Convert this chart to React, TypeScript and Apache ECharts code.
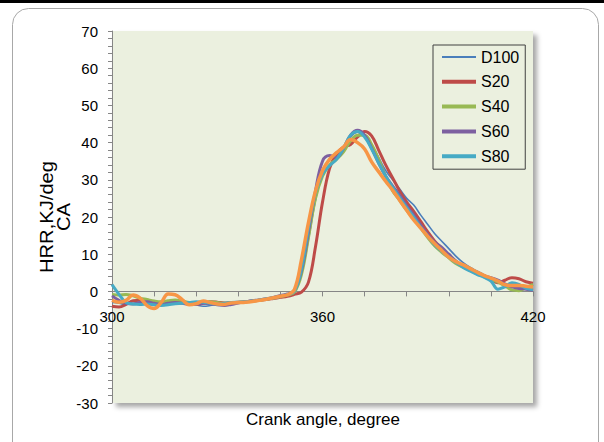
import React, { useEffect, useRef } from "react";
import * as echarts from "echarts";

// Crank angle samples (degrees)
const angles = [
  300, 302, 304, 306, 308, 310, 312, 314, 316, 318,
  320, 322, 324, 326, 328, 330, 332, 334, 336, 338,
  340, 342, 344, 346, 348, 350, 352, 354, 356, 358,
  360, 362, 364, 366, 368, 370, 372, 374, 376, 378,
  380, 382, 384, 386, 388, 390, 392, 394, 396, 398,
  400, 402, 404, 406, 408, 410, 412, 414, 416, 418,
  420,
];

// Heat release rate, kJ/deg CA
const d100 = [
  -3.0, -3.2, -3.5, -3.3, -3.0, -3.2, -3.5, -3.8, -3.6, -3.2,
  -3.0, -3.2, -3.6, -4.0, -3.8, -3.4, -3.2, -3.0, -2.9, -2.8,
  -2.6, -2.4, -2.1, -1.8, -1.5, -1.1, -0.3, 4.5, 14.0, 24.5,
  32.0, 35.5, 36.5, 38.5, 41.5, 42.8, 42.0, 39.5, 36.0, 32.5,
  30.0, 27.5, 25.0, 23.2, 20.5, 18.0, 15.5, 13.5, 11.5, 9.5,
  7.8, 6.5, 5.5, 4.5, 3.6, 2.8, 2.0, 1.5, 1.2, 1.0,
  0.8,
];
const s20 = [
  -4.0, -4.2, -3.5, -2.5, -2.4, -3.0, -3.5, -3.5, -3.0, -2.6,
  -2.8, -3.2, -3.4, -3.2, -2.8, -2.9, -3.1, -3.0, -2.9, -2.8,
  -2.6, -2.4, -2.2, -1.9, -1.6, -1.3, -0.8, -0.2, 2.5, 12.0,
  24.0, 33.0, 37.0, 38.8, 39.5, 41.5, 43.0, 41.8, 38.0, 34.0,
  30.5, 27.0, 24.0, 21.5, 18.8, 16.0, 13.5, 11.5, 9.5, 8.0,
  6.8, 5.8, 4.8, 4.0, 3.2, 2.3, 3.0, 3.7, 3.4, 2.6,
  2.2,
];
const s40 = [
  -0.8, -1.0, -0.8, -1.2, -1.8, -2.2, -2.6, -2.8, -2.5, -2.3,
  -2.6, -3.0, -3.2, -3.0, -2.8, -3.0, -3.2, -3.1, -3.0, -2.8,
  -2.6, -2.4, -2.1, -1.8, -1.4, -1.0, -0.2, 4.5, 14.5, 25.0,
  31.0, 34.0, 35.5, 37.5, 40.5, 42.0, 42.0, 39.5, 35.5, 31.0,
  27.0, 24.5, 21.8, 19.5, 17.0, 14.5, 12.2, 10.5, 9.0, 7.5,
  6.5, 5.8, 4.8, 4.0, 3.2, 2.5, 1.5, 0.4, 0.2, 1.0,
  1.9,
];
const s60 = [
  -1.2, -2.4, -3.2, -3.4, -3.0, -2.8, -3.2, -3.5, -3.2, -3.0,
  -3.2, -3.5, -3.4, -3.2, -3.3, -3.6, -3.8, -3.5, -3.1, -2.8,
  -2.5, -2.3, -2.0, -1.6, -1.1, -0.7, 0.3, 5.5, 16.0, 27.0,
  35.0, 36.5, 36.0, 38.5, 42.0, 43.3, 42.0, 38.5, 34.5, 31.0,
  28.3, 25.8, 23.0, 20.5, 17.8, 15.3, 13.2, 11.8, 10.0, 8.2,
  6.8, 5.8, 4.8, 4.2, 3.7, 3.0, 2.0, 1.2, 0.8, 0.6,
  0.3,
];
const s80 = [
  1.8, -0.8, -3.0, -3.4, -3.5, -3.4, -3.6, -3.8, -3.6, -3.3,
  -3.2, -3.0, -2.8, -2.9, -3.2, -3.4, -3.2, -3.0, -2.9, -2.8,
  -2.6, -2.3, -2.0, -1.7, -1.3, -0.9, 0.0, 6.0, 17.0, 26.5,
  31.5, 33.8, 35.5, 38.5, 42.0, 43.0, 41.5, 38.3, 34.5, 31.0,
  28.0, 25.2, 22.5, 20.0, 17.2, 14.8, 12.5, 10.8, 9.2, 7.8,
  6.5, 5.5, 4.6, 3.8, 2.8, 0.6, 1.2, 2.3, 1.9, 0.8,
  0.5,
];
const s100 = [
  -2.4, -2.9, -2.4, -1.0, -1.8, -3.8, -4.6, -3.0, -0.7, -0.9,
  -2.2, -3.6, -3.3, -2.6, -3.0, -3.4, -3.5, -3.1, -3.0, -2.9,
  -2.7, -2.4, -2.1, -1.7, -1.3, -0.9, 0.5, 8.5, 18.5, 27.0,
  32.5, 35.5, 37.3, 38.8, 40.8, 40.0, 38.3, 34.8, 32.2, 29.6,
  27.2, 24.5, 21.8, 19.2, 17.0, 14.8, 12.8, 11.0, 9.2, 8.0,
  7.2, 6.2, 5.2, 4.3, 3.6, 2.8, 1.8, 1.6, 1.6, 1.4,
  1.2,
];

const seriesDefs = [
  { name: "D100", values: d100, color: "#4A7EBB", width: 1.6, legendWidth: 2 },
  { name: "S20", values: s20, color: "#BE4B48", width: 3, legendWidth: 4 },
  { name: "S40", values: s40, color: "#98B954", width: 3, legendWidth: 4 },
  { name: "S60", values: s60, color: "#7D60A0", width: 3, legendWidth: 4 },
  { name: "S80", values: s80, color: "#46AAC5", width: 3, legendWidth: 4 },
  { name: "S100", values: s100, color: "#F79646", width: 3.5, legendWidth: 4 },
];
const legendNames = ["D100", "S20", "S40", "S60", "S80"];

const FONT = "Liberation Sans, Arial, sans-serif";

// Plot area and value range of the HRR axis
const GRID = { left: 112, right: 71, top: 31, bottom: 39 };
const Y_MIN = -30;
const Y_MAX = 70;
const HEIGHT = 442;

export default function App() {
  const ref = useRef<HTMLDivElement>(null);

  useEffect(() => {
    if (!ref.current) return;
    const chart = echarts.init(ref.current, undefined, { renderer: "svg" });

    // the crank-angle axis runs along HRR = 0, raised from the plot bottom
    const plotH = HEIGHT - GRID.top - GRID.bottom;
    const zeroRaise = (plotH * (0 - Y_MIN)) / (Y_MAX - Y_MIN);

    chart.setOption({
      animation: false,
      backgroundColor: "#ffffff",
      graphic: [
        {
          type: "rect",
          shape: { x: 0, y: 0, width: 604, height: 3 },
          style: { fill: "#000000" },
          silent: true,
        },
        {
          type: "rect",
          shape: { x: 12.5, y: 8.5, width: 586, height: 480, r: 16 },
          style: { fill: "none", stroke: "#a8a8a8", lineWidth: 1 },
          silent: true,
        },
        {
          type: "text",
          x: 55,
          y: 217,
          rotation: Math.PI / 2,
          scaleX: 1.12,
          style: {
            text: "HRR,KJ/deg\nCA",
            fontSize: 18,
            fontFamily: FONT,
            align: "center",
            verticalAlign: "middle",
            lineHeight: 17,
            fill: "#000000",
          },
          silent: true,
        },
        {
          type: "text",
          x: 323,
          y: 419,
          style: {
            text: "Crank angle, degree",
            fontSize: 17,
            fontFamily: FONT,
            align: "center",
            verticalAlign: "middle",
            fill: "#000000",
          },
          silent: true,
        },
      ],
      grid: {
        show: true,
        ...GRID,
        backgroundColor: "#EBF0DF",
        borderWidth: 0,
        shadowColor: "rgba(0,0,0,0.35)",
        shadowBlur: 5,
        shadowOffsetX: 4,
        shadowOffsetY: 4,
      },
      legend: {
        data: legendNames.map((n) => {
          const d = seriesDefs.find((s) => s.name === n)!;
          return { name: n, lineStyle: { width: d.legendWidth } };
        }),
        orient: "vertical",
        left: 433,
        top: 45,
        padding: [3, 6, 4, 7],
        itemWidth: 34,
        itemHeight: 14,
        itemGap: 6.8,
        itemStyle: { opacity: 0, borderWidth: 0 },
        backgroundColor: "#EBF0DF",
        borderColor: "#404040",
        borderWidth: 1,
        borderRadius: 0,
        textStyle: {
          fontSize: 16,
          fontFamily: FONT,
          color: "#000000",
          lineHeight: 18,
        },
      },
      xAxis: {
        type: "value",
        position: "bottom",
        offset: -zeroRaise,
        min: 300,
        max: 420,
        interval: 60,
        axisLine: { onZero: false, lineStyle: { color: "#868686", width: 1 } },
        axisTick: { show: true, length: 5, lineStyle: { color: "#868686" } },
        minorTick: { show: true, splitNumber: 5, length: 5, lineStyle: { color: "#868686" } },
        splitLine: { show: false },
        axisLabel: {
          fontSize: 15,
          fontFamily: FONT,
          color: "#000000",
          margin: 18,
        },
      },
      yAxis: {
        type: "value",
        min: Y_MIN,
        max: Y_MAX,
        interval: 10,
        axisLine: { show: true, onZero: false, lineStyle: { color: "#868686", width: 1 } },
        axisTick: { show: true, length: 4, lineStyle: { color: "#868686" } },
        minorTick: { show: true, splitNumber: 5, length: 4, lineStyle: { color: "#868686" } },
        splitLine: { show: false },
        axisLabel: {
          fontSize: 15,
          fontFamily: FONT,
          color: "#000000",
          margin: 14,
        },
      },
      series: seriesDefs.map((s) => ({
        name: s.name,
        type: "line",
        data: angles.map((a, i) => [a, s.values[i]]),
        smooth: 0.4,
        symbol: "none",
        showSymbol: false,
        lineStyle: { color: s.color, width: s.width },
        itemStyle: { color: s.color },
        emphasis: { disabled: true },
      })),
    });

    return () => chart.dispose();
  }, []);

  return (
    <div
      ref={ref}
      style={{ position: "fixed", left: 0, top: 0, width: 604, height: 442 }}
    />
  );
}
